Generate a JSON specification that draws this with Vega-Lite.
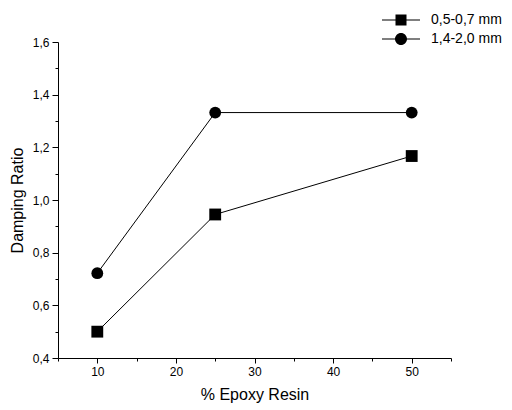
{
  "$schema": "https://vega.github.io/schema/vega-lite/v6.json",
  "width": 393,
  "height": 316,
  "autosize": "none",
  "padding": {"left": 58, "top": 42, "right": 61, "bottom": 52},
  "data": {
    "values": [
      {"epoxy": 10, "damping": 0.50, "series": "0,5-0,7 mm"},
      {"epoxy": 25, "damping": 0.945, "series": "0,5-0,7 mm"},
      {"epoxy": 50, "damping": 1.167, "series": "0,5-0,7 mm"},
      {"epoxy": 10, "damping": 0.722, "series": "1,4-2,0 mm"},
      {"epoxy": 25, "damping": 1.332, "series": "1,4-2,0 mm"},
      {"epoxy": 50, "damping": 1.332, "series": "1,4-2,0 mm"}
    ]
  },
  "encoding": {
    "x": {
      "field": "epoxy",
      "type": "quantitative",
      "title": "% Epoxy Resin",
      "scale": {"domain": [5, 55], "nice": false, "zero": false},
      "axis": {
        "values": [5, 10, 15, 20, 25, 30, 35, 40, 45, 50, 55],
        "labelExpr": "datum.value % 10 == 0 ? format(datum.value, 'd') : ''",
        "tickSize": {"condition": {"test": "datum.value % 10 == 0", "value": 5}, "value": 3},
        "labelOverlap": false,
        "grid": false,
        "labelPadding": 3,
        "titlePadding": 9
      }
    },
    "y": {
      "field": "damping",
      "type": "quantitative",
      "title": "Damping Ratio",
      "scale": {"domain": [0.4, 1.6], "nice": false, "zero": false},
      "axis": {
        "values": [0.4, 0.5, 0.6, 0.7, 0.8, 0.9, 1.0, 1.1, 1.2, 1.3, 1.4, 1.5, 1.6],
        "labelExpr": "round(datum.value * 10) % 2 == 0 ? replace(format(datum.value, '.1f'), '.', ',') : ''",
        "tickSize": {"condition": {"test": "round(datum.value * 10) % 2 == 0", "value": 6}, "value": 3},
        "labelOverlap": false,
        "grid": false,
        "labelPadding": 3,
        "titlePadding": 7
      }
    }
  },
  "layer": [
    {
      "mark": {"type": "line", "color": "black", "strokeWidth": 1},
      "encoding": {"detail": {"field": "series", "type": "nominal"}}
    },
    {
      "mark": {"type": "point", "filled": true, "color": "black", "opacity": 1, "size": 140},
      "encoding": {
        "shape": {
          "field": "series",
          "type": "nominal",
          "scale": {"domain": ["0,5-0,7 mm", "1,4-2,0 mm"], "range": ["square", "circle"]},
          "legend": null
        }
      }
    },
    {
      "mark": {"type": "point", "filled": true, "color": "black", "opacity": 1, "size": 0},
      "encoding": {
        "shape": {
          "field": "series",
          "type": "nominal",
          "scale": {
            "domain": ["0,5-0,7 mm", "1,4-2,0 mm"],
            "range": [
              "M-1.9,-0.05H1.9V0.05H-1.9Z M-0.55,-0.55H0.55V0.55H-0.55Z",
              "M-1.9,-0.05H1.9V0.05H-1.9Z M-0.6,0A0.6,0.6 0 1,1 0.6,0A0.6,0.6 0 1,1 -0.6,0Z"
            ]
          },
          "legend": {
            "title": null,
            "orient": "none",
            "legendX": 333,
            "legendY": -32,
            "padding": 0,
            "rowPadding": 2,
            "symbolSize": 400,
            "symbolOpacity": 1,
            "symbolFillColor": "black",
            "symbolStrokeWidth": 0,
            "labelOffset": 20,
            "labelFontSize": 14,
            "labelColor": "black"
          }
        }
      }
    }
  ],
  "resolve": {"scale": {"shape": "independent"}},
  "config": {
    "view": {"stroke": null},
    "font": "Liberation Sans",
    "axis": {
      "domainColor": "black",
      "tickColor": "black",
      "labelColor": "black",
      "titleColor": "black",
      "labelFontSize": 12,
      "titleFontSize": 16,
      "titleFontWeight": "normal",
      "labelFont": "Liberation Sans",
      "titleFont": "Liberation Sans"
    },
    "legend": {"labelFont": "Liberation Sans"}
  }
}
